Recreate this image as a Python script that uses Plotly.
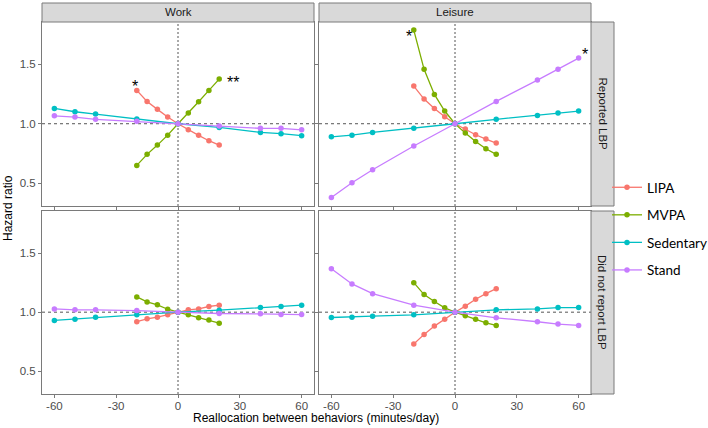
import plotly.graph_objects as go

W, H = 708, 428

# ---------------- data ----------------
behaviors = ["LIPA", "MVPA", "Sedentary", "Stand"]
colors = ["#F8766D", "#7CAE00", "#00BFC4", "#C77CFF"]

x_active = [-20, -15, -10, -5, 0, 5, 10, 15, 20]
x_wide = [-60, -50, -40, -20, 0, 20, 40, 50, 60]

# Work, Reported LBP
work_rep_lipa = [1.281, 1.188, 1.121, 1.056, 1.0, 0.949, 0.902, 0.857, 0.820]
work_rep_mvpa = [0.649, 0.742, 0.820, 0.904, 1.0, 1.090, 1.185, 1.281, 1.376]
work_rep_sed = [1.129, 1.101, 1.081, 1.039, 1.0, 0.969, 0.927, 0.916, 0.899]
work_rep_stand = [1.067, 1.056, 1.037, 1.020, 1.0, 0.980, 0.961, 0.961, 0.949]

# Leisure, Reported LBP
leis_rep_lipa = [1.317, 1.208, 1.129, 1.059, 1.0, 0.955, 0.907, 0.871, 0.837]
leis_rep_mvpa = [1.789, 1.458, 1.247, 1.107, 1.0, 0.921, 0.851, 0.789, 0.742]
leis_rep_sed = [0.890, 0.904, 0.927, 0.961, 1.0, 1.037, 1.070, 1.090, 1.107]
leis_rep_stand = [0.379, 0.503, 0.612, 0.812, 1.0, 1.188, 1.368, 1.458, 1.553]

# Work, Did not report LBP
work_not_lipa = [0.919, 0.944, 0.958, 0.978, 1.0, 1.020, 1.028, 1.048, 1.059]
work_not_mvpa = [1.129, 1.087, 1.062, 1.025, 1.0, 0.978, 0.952, 0.933, 0.907]
work_not_sed = [0.930, 0.941, 0.958, 0.978, 1.0, 1.017, 1.039, 1.048, 1.059]
work_not_stand = [1.028, 1.020, 1.020, 1.014, 1.0, 0.989, 0.986, 0.980, 0.980]

# Leisure, Did not report LBP
leis_not_lipa = [0.730, 0.812, 0.882, 0.941, 1.0, 1.051, 1.110, 1.157, 1.199]
leis_not_mvpa = [1.250, 1.149, 1.090, 1.037, 1.0, 0.969, 0.941, 0.910, 0.888]
leis_not_sed = [0.955, 0.958, 0.966, 0.978, 1.0, 1.020, 1.028, 1.039, 1.039]
leis_not_stand = [1.368, 1.239, 1.157, 1.059, 1.0, 0.952, 0.919, 0.899, 0.888]

col_labels = ["Work", "Leisure"]
row_labels = ["Reported LBP", "Did not report LBP"]
x_ticks = [-60, -30, 0, 30, 60]
x_ticklabels = ["-60", "-30", "0", "30", "60"]
y_ticks = [0.5, 1.0, 1.5]
y_ticklabels = ["0.5", "1.0", "1.5"]

# significance marks: (row, col, label, x, y)
sig_marks = [
    (0, 0, "*", -21.0, 1.34),
    (0, 0, "**", 26.5, 1.376),
    (0, 1, "*", -22.5, 1.76),
    (0, 1, "*", 63.0, 1.607),
]

panels = {
    (0, 0): [work_rep_lipa, work_rep_mvpa, work_rep_sed, work_rep_stand],
    (0, 1): [leis_rep_lipa, leis_rep_mvpa, leis_rep_sed, leis_rep_stand],
    (1, 0): [work_not_lipa, work_not_mvpa, work_not_sed, work_not_stand],
    (1, 1): [leis_not_lipa, leis_not_mvpa, leis_not_sed, leis_not_stand],
}
x_for = [x_active, x_active, x_wide, x_wide]

# ---------------- layout geometry (pixels) ----------------
col_px = [(42, 314), (319, 591)]
row_px = [(22, 206), (211, 394)]
strip_top = (3, 22)
strip_right = (591, 614)

def px_x(p):
    return p / W

def px_y(p):
    return 1 - p / H

FONT = "Liberation Sans, Arial, sans-serif"
BORDER = "#7A7A7A"
STRIP_FILL = "#D9D9D9"

fig = go.Figure()
layout = dict(
    width=W, height=H, autosize=False,
    margin=dict(l=0, r=0, t=0, b=0, pad=0, autoexpand=False),
    paper_bgcolor="white", plot_bgcolor="white",
    font=dict(family=FONT, size=12, color="#000000"),
    showlegend=True,
)

shapes = []
annotations = []

for r in range(2):
    for c in range(2):
        idx = r * 2 + c + 1
        xa = "x" if idx == 1 else f"x{idx}"
        ya = "y" if idx == 1 else f"y{idx}"
        xkey = "xaxis" if idx == 1 else f"xaxis{idx}"
        ykey = "yaxis" if idx == 1 else f"yaxis{idx}"
        layout[xkey] = dict(
            domain=[px_x(col_px[c][0]), px_x(col_px[c][1])],
            anchor=ya, range=[-66, 66], automargin=False,
            tickvals=x_ticks, ticktext=x_ticklabels, showticklabels=(r == 1),
            ticks="outside", ticklen=3, tickcolor=BORDER, tickwidth=1,
            ticklabelstandoff=-2,
            showgrid=False, zeroline=False,
            showline=True, mirror=True, linecolor=BORDER, linewidth=1,
            tickfont=dict(family=FONT, size=11.5, color="#4D4D4D"),
        )
        layout[ykey] = dict(
            domain=[px_y(row_px[r][1]), px_y(row_px[r][0])],
            anchor=xa, range=[0.307, 1.857], automargin=False,
            tickvals=y_ticks, ticktext=y_ticklabels, showticklabels=(c == 0),
            ticks="outside", ticklen=3, tickcolor=BORDER, tickwidth=1,
            showgrid=False, zeroline=False,
            showline=True, mirror=True, linecolor=BORDER, linewidth=1,
            tickfont=dict(family=FONT, size=11.5, color="#4D4D4D"),
        )
        # reference lines
        shapes.append(dict(type="line", xref=f"{xa} domain", yref=ya,
                           x0=0, x1=1, y0=1, y1=1,
                           line=dict(color="#555555", width=1, dash="3px,3px"),
                           layer="below"))
        shapes.append(dict(type="line", xref=xa, yref=f"{ya} domain",
                           x0=0, x1=0, y0=0, y1=1,
                           line=dict(color="#555555", width=1, dash="2px,2px"),
                           layer="below"))
        for k, name in enumerate(behaviors):
            fig.add_trace(go.Scatter(
                x=x_for[k], y=panels[(r, c)][k],
                mode="lines+markers", name=name,
                legendgroup=name, showlegend=(idx == 1),
                line=dict(color=colors[k], width=1.3),
                marker=dict(color=colors[k], size=5.5),
                xaxis=xa, yaxis=ya,
                hoverinfo="skip",
            ))

# significance marks
for (r, c, label, xv, yv) in sig_marks:
    idx = r * 2 + c + 1
    xa = "x" if idx == 1 else f"x{idx}"
    ya = "y" if idx == 1 else f"y{idx}"
    annotations.append(dict(x=xv, y=yv, xref=xa, yref=ya, text=label,
                            showarrow=False, yshift=-3,
                            font=dict(family=FONT, size=16, color="#000000")))

# top strips
for c in range(2):
    shapes.append(dict(type="rect", xref="paper", yref="paper",
                       x0=px_x(col_px[c][0]), x1=px_x(col_px[c][1]),
                       y0=px_y(strip_top[1]), y1=px_y(strip_top[0]),
                       fillcolor=STRIP_FILL, line=dict(color=BORDER, width=1)))
    annotations.append(dict(x=px_x((col_px[c][0] + col_px[c][1]) / 2),
                            y=px_y((strip_top[0] + strip_top[1]) / 2),
                            xref="paper", yref="paper", text=col_labels[c],
                            showarrow=False, xanchor="center", yanchor="middle",
                            font=dict(family=FONT, size=11.5, color="#1A1A1A")))
# right strips
for r in range(2):
    shapes.append(dict(type="rect", xref="paper", yref="paper",
                       x0=px_x(strip_right[0]), x1=px_x(strip_right[1]),
                       y0=px_y(row_px[r][1]), y1=px_y(row_px[r][0]),
                       fillcolor=STRIP_FILL, line=dict(color=BORDER, width=1)))
    annotations.append(dict(x=px_x((strip_right[0] + strip_right[1]) / 2),
                            y=px_y((row_px[r][0] + row_px[r][1]) / 2),
                            xref="paper", yref="paper", text=row_labels[r],
                            textangle=90, showarrow=False,
                            xanchor="center", yanchor="middle",
                            font=dict(family=FONT, size=11.5, color="#1A1A1A")))

# axis titles
annotations.append(dict(x=px_x(316), y=px_y(418), xref="paper", yref="paper",
                        text="Reallocation between behaviors (minutes/day)",
                        showarrow=False, xanchor="center", yanchor="middle",
                        font=dict(family=FONT, size=12, color="#000000")))
annotations.append(dict(x=px_x(8), y=px_y(208), xref="paper", yref="paper",
                        text="Hazard ratio", textangle=-90,
                        showarrow=False, xanchor="center", yanchor="middle",
                        font=dict(family=FONT, size=12, color="#000000")))

layout["shapes"] = shapes
layout["annotations"] = annotations
layout["legend"] = dict(x=px_x(607), y=px_y(172), xanchor="left", yanchor="top",
                        bgcolor="rgba(0,0,0,0)", borderwidth=0,
                        tracegroupgap=7, itemwidth=30,
                        font=dict(family="Lato, Open Sans, sans-serif", size=13.5, color="#000000"))
fig.update_layout(**layout)

fig.write_html("out.html",
               config={"responsive": False, "displayModeBar": False},
               post_script="document.body.style.margin='0';")
